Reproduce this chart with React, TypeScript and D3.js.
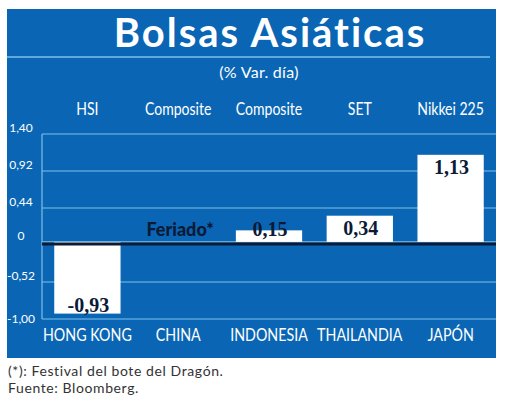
import React from "react";
import * as d3 from "d3";

const countries = ["HONG KONG", "CHINA", "INDONESIA", "THAILANDIA", "JAPÓN"];
const indices = ["HSI", "Composite", "Composite", "SET", "Nikkei 225"];
const values: (number | null)[] = [-0.93, null, 0.15, 0.34, 1.13];
const valueLabels = ["-0,93", "Feriado*", "0,15", "0,34", "1,13"];
const ticks = [1.4, 0.92, 0.44, 0, -0.52, -1.0];
const tickLabels = ["1,40", "0,92", "0,44", "0", "-0,52", "-1,00"];

const BLUE = "#0a66b4";
const GRID = "#7cc0ea";
const INK = "#0b1a36";
const humanist = "Lato, 'Open Sans', sans-serif";

// condensed look: the reference uses a narrow face, so squeeze Lato horizontally
const Narrow = ({ x, y, size, sx, children }: any) => (
    <g transform={`translate(${x},${y}) scale(${sx},1)`}>
        <text x={0} y={0} textAnchor="middle" fill="#fff" fontFamily={humanist} fontSize={size}>
            {children}
        </text>
    </g>
);

const App = () => {
    const width = 520;
    const height = 413;
    const plot = { left: 42, right: 496, top: 134, bottom: 319 };

    const x = d3
        .scaleBand()
        .domain(countries)
        .range([plot.left, plot.right])
        .paddingInner(0.27)
        .paddingOuter(0.135);
    const y = d3.scaleLinear().domain([-1, 1.4]).range([plot.bottom, plot.top]);
    const y0 = y(0);
    const mid = (c: string) => x(c)! + x.bandwidth() / 2;

    return (
        <svg
            width={width}
            height={height}
            viewBox={`0 0 ${width} ${height}`}
            style={{ position: "absolute", left: 0, top: 0, background: "#fff" }}
        >
            {/* panel */}
            <rect x={7} y={9} width={489} height={349} fill={BLUE} />
            <text
                x={270}
                y={47}
                textAnchor="middle"
                fill="#fff"
                fontFamily={humanist}
                fontWeight={700}
                fontSize={40}
                letterSpacing={2}
            >
                Bolsas Asiáticas
            </text>
            <line x1={7} x2={490} y1={57} y2={57} stroke={GRID} strokeWidth={1.5} />
            <text
                x={259}
                y={78}
                textAnchor="middle"
                fill="#fff"
                fontFamily={humanist}
                fontSize={16}
                letterSpacing={0.3}
            >
                (% Var. día)
            </text>

            {/* index names */}
            {indices.map((d, i) => (
                <Narrow key={"idx" + i} x={mid(countries[i])} y={115} size={18} sx={0.78}>
                    {d}
                </Narrow>
            ))}

            {/* grid */}
            {ticks.map((t, i) => (
                <g key={"t" + i}>
                    <line x1={plot.left} x2={plot.right} y1={y(t)} y2={y(t)} stroke={GRID} strokeWidth={1.2} />
                    <text
                        x={21}
                        y={i === ticks.length - 1 ? y(t) + 4 : y(t) - 2}
                        textAnchor="middle"
                        fill="#fff"
                        fontFamily={humanist}
                        fontSize={12}
                    >
                        {tickLabels[i]}
                    </text>
                </g>
            ))}
            <line x1={plot.left} x2={plot.left} y1={plot.top} y2={plot.bottom} stroke={GRID} strokeWidth={1.2} />

            {/* bars */}
            {values.map((v, i) =>
                v === null ? null : (
                    <rect
                        key={"b" + i}
                        x={x(countries[i])!}
                        y={Math.min(y(v), y0)}
                        width={x.bandwidth()}
                        height={Math.abs(y(v) - y0)}
                        fill="#fff"
                    />
                )
            )}
            <line x1={plot.left} x2={plot.right} y1={y0 + 2} y2={y0 + 2} stroke={INK} strokeWidth={3} />

            {/* value labels */}
            {values.map((v, i) => {
                const cx = mid(countries[i]);
                if (v === null) {
                    return (
                        <text
                            key={"v" + i}
                            x={cx + 2}
                            y={y0 - 6}
                            textAnchor="middle"
                            fill={INK}
                            fontFamily={humanist}
                            fontWeight={900}
                            fontSize={18}
                        >
                            {valueLabels[i]}
                        </text>
                    );
                }
                const ty = v < 0 ? y(v) - 2 : Math.min(y(v) + 19, y0 - 6);
                return (
                    <text
                        key={"v" + i}
                        x={cx + 1}
                        y={ty}
                        textAnchor="middle"
                        fill={INK}
                        fontFamily="'Liberation Serif', serif"
                        fontWeight={700}
                        fontSize={20}
                    >
                        {valueLabels[i]}
                    </text>
                );
            })}

            {/* country names */}
            {countries.map((c) => (
                <Narrow key={c} x={mid(c)} y={341} size={17} sx={0.84}>
                    {c}
                </Narrow>
            ))}

            {/* footnotes */}
            <text x={8} y={376} fill="#333" fontFamily={humanist} fontSize={14} letterSpacing={0.6}>
                (*): Festival del bote del Dragón.
            </text>
            <text x={8} y={393} fill="#333" fontFamily={humanist} fontSize={14} letterSpacing={0.6}>
                Fuente: Bloomberg.
            </text>
        </svg>
    );
};

export default App;
